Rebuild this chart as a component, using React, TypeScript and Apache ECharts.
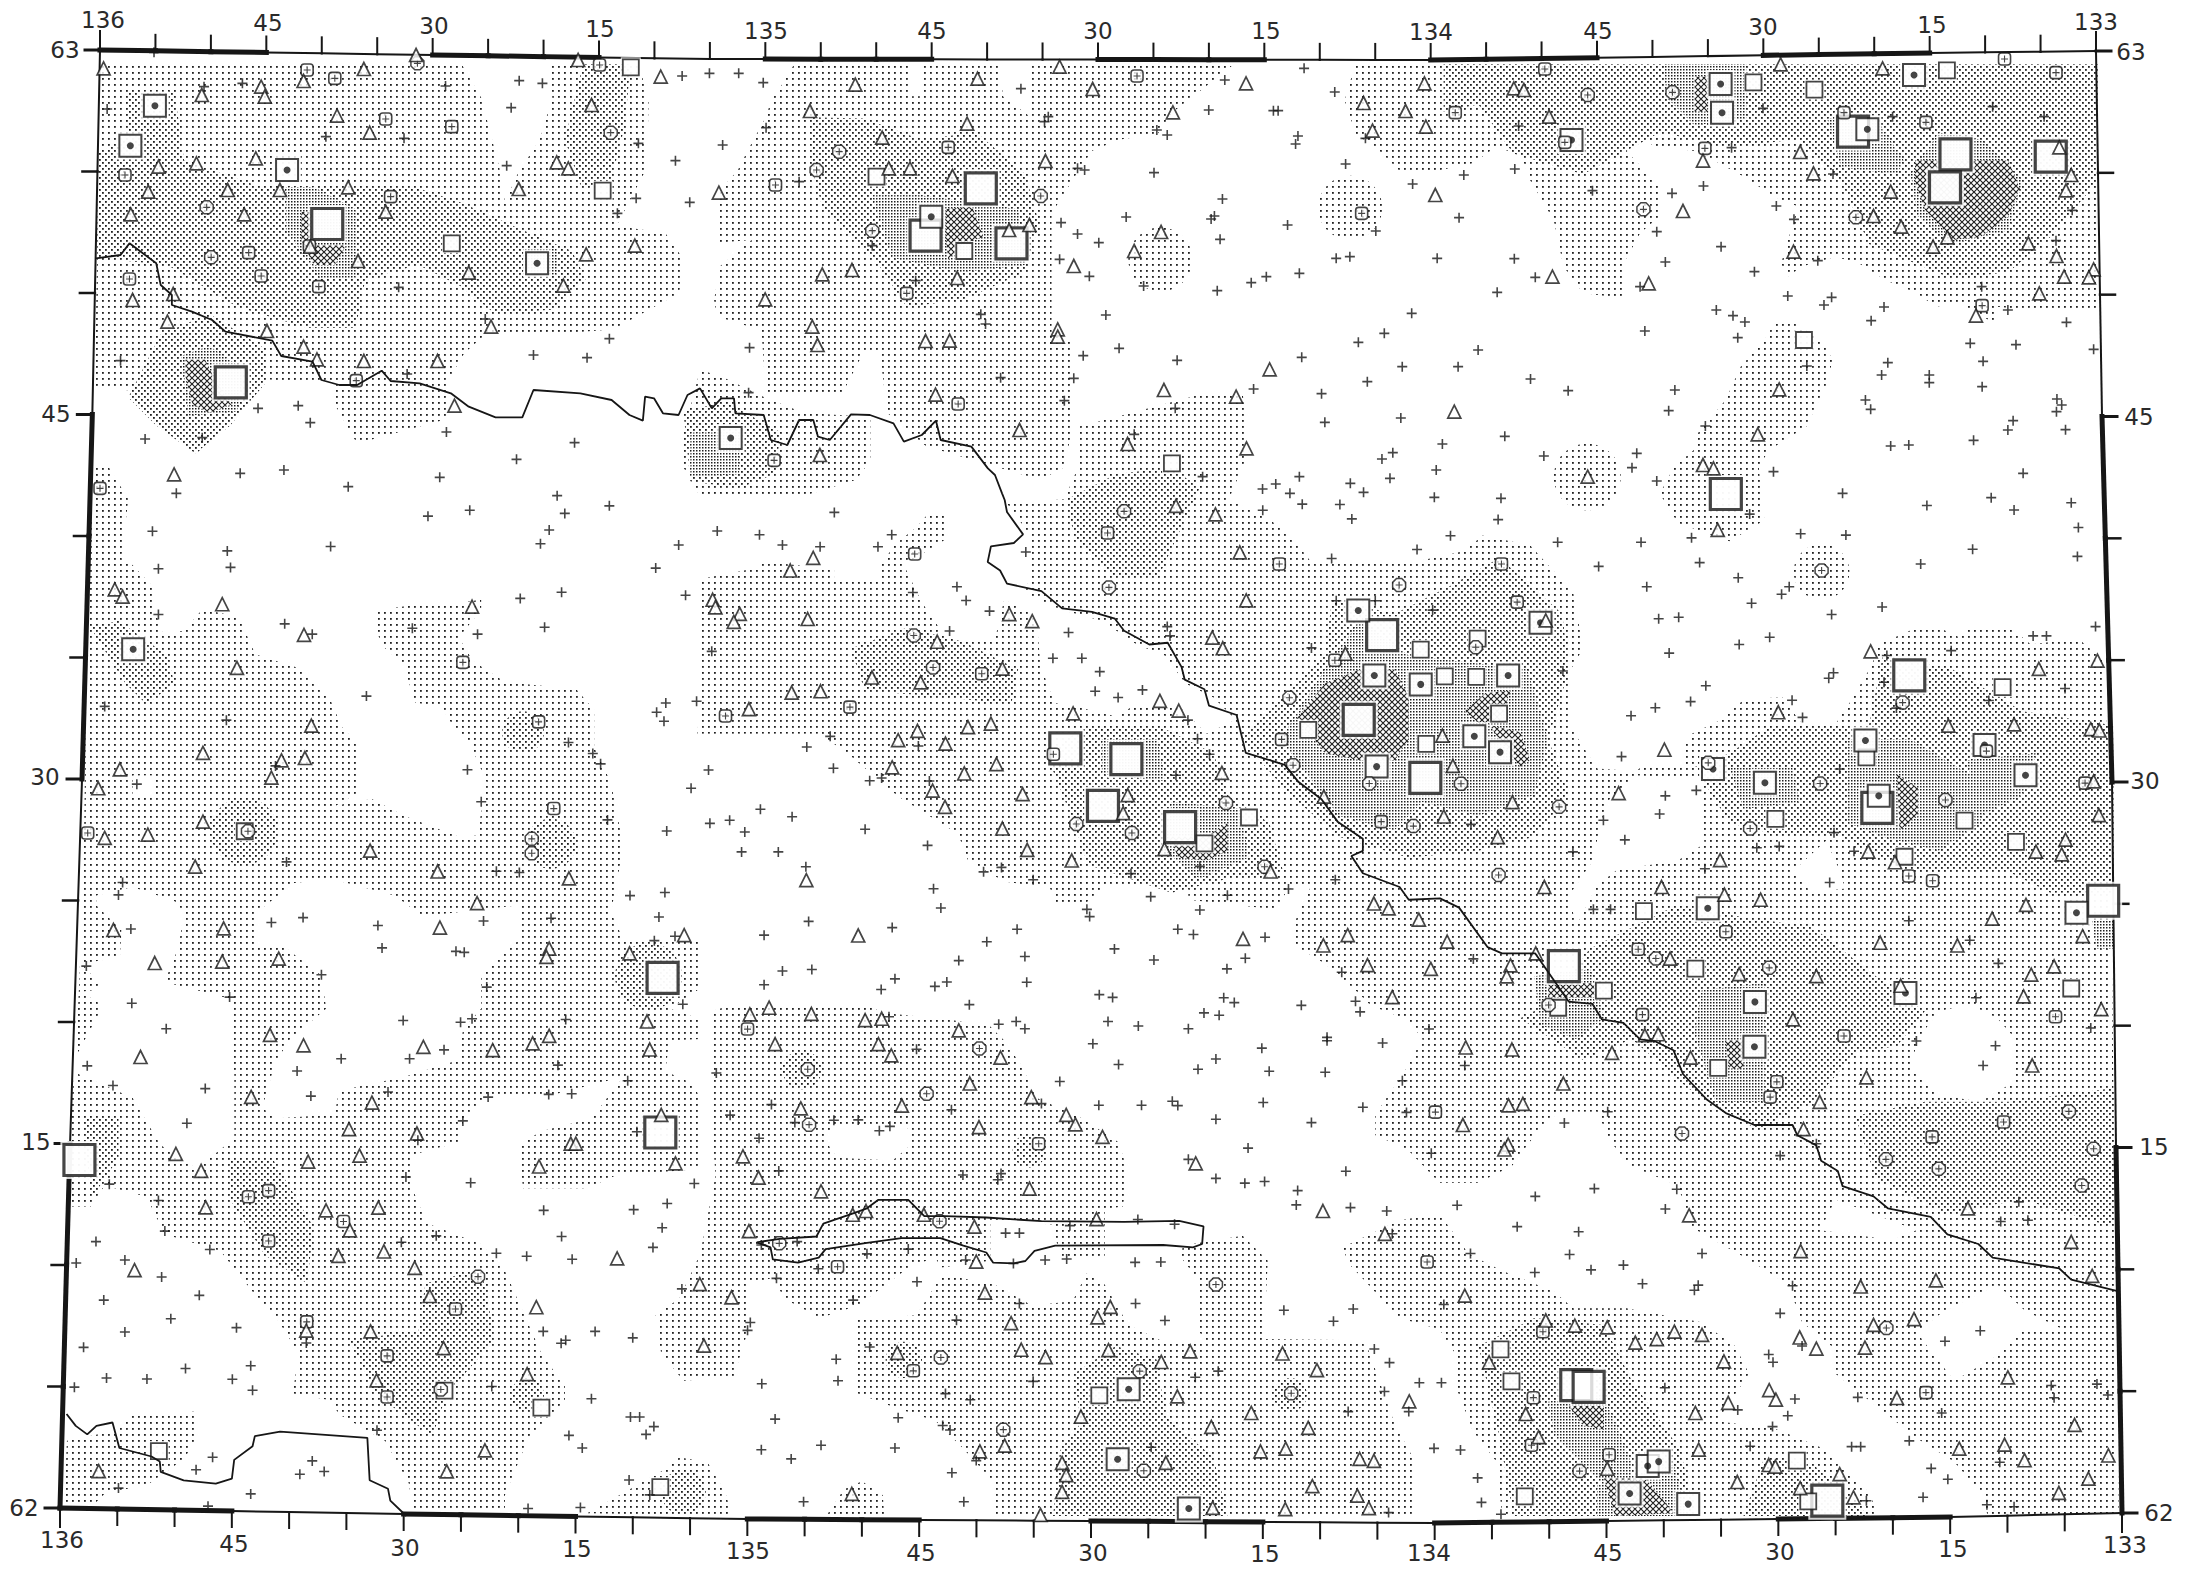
import React, { useEffect, useRef } from "react";
import * as echarts from "echarts";

type P = number[];
const W = 2187, H = 1573;

// ---- readings taken sheet by sheet: each sheet has an origin and its own reading scale ----
const sheet = (x0: number, y0: number, w: number, ys: number) => (pts: P[]) =>
  pts.map(([x, y]) => [x0 + (x * w) / 1568, y0 + y * ys]);
const sA = sheet(0, 0, 700, 1 / 3), sB = sheet(700, 0, 740, 1 / 3), sC = sheet(1440, 0, 747, 1 / 3);
const sD = sheet(0, 500, 720, 0.344), sE = sheet(720, 500, 720, 0.344), sF = sheet(1440, 500, 747, 0.344);
const sG = sheet(0, 1040, 720, 0.34), sH = sheet(720, 1040, 720, 0.34), sI = sheet(1440, 1040, 747, 0.34);
const map = (pts: P[]) => pts.map(([x, y]) => [(x * W) / 1568, (y * W) / 1568]);

// ---- plus stations ----
const plusA = [[345,157],[240,327],[457,260],[543,250],[998,258],[1163,242],[1215,250],[1145,323],[1528,228],[730,410],[905,415],[1135,497],[1430,430],[1513,482],[1425,595],[1545,607],[1383,640],[893,862],[1087,957],[1365,1016],[1195,1065],[1315,1073],[270,1082],[912,1122],[578,1225],[668,1217],[695,1268],[1000,1296],[325,1317],[453,1313],[1287,1328],[538,1420],[636,1410],[1157,1378],[985,1432],[780,1460],[395,1480],[1248,1487]];
const plusB = [[20,220],[82,220],[134,248],[680,266],[1112,240],[1280,205],[1345,276],[1078,330],[1215,332],[1225,332],[738,350],[730,365],[140,383],[968,390],[990,405],[1267,408],[1262,432],[1410,415],[48,435],[1368,492],[800,505],[815,510],[962,518],[210,545],[1510,552],[1107,597],[903,651],[1090,648],[1083,657],[1245,675],[765,668],[800,702],[1432,693],[1102,718],[845,728],[365,737],[1348,775],[1377,770],[1562,775],[762,778],[825,829],[1270,820],[1200,830],[1168,848],[940,858],[457,842],[1096,872],[860,945],[1508,940],[595,943],[605,972],[1450,1000],[1395,1027],[105,1043],[888,1045],[812,1067],[1275,1072],[1011,1081],[1488,1100],[637,1133],[792,1135],[1414,1145],[1173,1167],[1317,1181],[103,1178],[772,1202],[1007,1225],[1485,1254],[1324,1267],[920,1303],[1468,1358],[1445,1377],[1560,1410],[1065,1430],[1270,1430],[1462,1435],[1378,1450],[1220,1452],[1192,1467],[1406,1477],[1250,1480],[1556,1492]];
const plusC = [[678,325],[950,350],[1268,350],[1160,320],[165,378],[612,443],[50,525],[157,507],[825,522],[553,558],[487,580],[320,572],[706,618],[40,653],[743,658],[1327,631],[455,695],[590,740],[1293,722],[156,776],[473,786],[793,782],[660,815],[200,832],[420,860],[120,877],[730,888],[822,892],[806,915],[1137,860],[932,921],[580,930],[615,947],[1192,930],[640,966],[905,962],[1315,967],[430,993],[625,1013],[1113,1030],[1209,1034],[80,1050],[1372,1048],[940,1088],[1140,1084],[770,1098],[38,1100],[927,1125],[1027,1125],[1027,1148],[1138,1160],[190,1137],[269,1172],[493,1170],[893,1200],[1295,1197],[1305,1215],[904,1228],[1294,1235],[480,1232],[1203,1262],[1192,1290],[1313,1289],[557,1278],[136,1309],[5,1332],[946,1338],[984,1335],[1120,1321],[413,1360],[218,1368],[403,1403],[700,1415],[1224,1420],[455,1443],[845,1480],[128,1495],[1157,1493]];
const plusD = [[332,91],[495,148],[720,135],[932,47],[1023,30],[1230,39],[1327,17],[1196,87],[1177,127],[1478,131],[1562,90],[345,200],[502,196],[1428,198],[1223,268],[1133,286],[1493,277],[345,333],[620,360],[680,390],[898,373],[1040,390],[1186,370],[1550,440],[798,570],[228,600],[493,640],[1450,590],[1430,617],[1446,643],[1517,585],[1238,705],[1291,737],[1308,767],[1018,784],[1543,785],[600,773],[298,826],[1505,838],[1048,877],[1323,930],[1546,940],[1452,962],[624,1052],[1081,1079],[1131,1083],[267,1112],[258,1148],[1372,1150],[1448,1141],[660,1214],[591,1228],[823,1237],[1435,1212],[1200,1216],[1053,1224],[285,1247],[832,1302],[1425,1281],[1470,1268],[993,1312],[1011,1315],[188,1355],[700,1380],[1060,1416],[500,1445],[287,1463],[1487,1466],[362,1537],[878,1513],[1003,1518],[1028,1508],[1232,1510]];
const plusE = [[249,36],[1182,30],[1268,12],[1350,13],[1376,55],[86,101],[374,101],[136,131],[218,136],[344,136],[666,151],[1518,144],[1332,170],[420,269],[516,252],[536,292],[1342,293],[1427,293],[1552,320],[587,323],[500,381],[759,385],[974,368],[980,395],[725,460],[788,460],[1288,430],[827,499],[817,556],[920,552],[867,574],[1019,640],[240,687],[189,718],[1040,694],[432,715],[1066,739],[247,780],[993,800],[326,816],[352,808],[456,817],[88,899],[157,921],[21,931],[54,965],[316,957],[452,1004],[47,1023],[127,1023],[187,1066],[1045,1065],[574,1081],[613,1068],[895,1086],[682,1104],[1340,1104],[465,1130],[1238,1131],[1105,1149],[938,1153],[481,1186],[799,1190],[805,1211],[1045,1192],[193,1225],[647,1248],[997,1248],[1031,1263],[375,1243],[96,1265],[1187,1271],[581,1284],[859,1305],[1144,1332],[664,1327],[520,1339],[945,1337],[136,1369],[200,1365],[1104,1363],[1354,1373],[381,1392],[494,1401],[668,1402],[96,1409],[351,1423],[468,1414],[826,1438],[855,1446],[1097,1447],[1120,1461],[1384,1457],[543,1467],[1266,1469],[1394,1488],[1054,1491],[1087,1498],[368,1502],[645,1516],[845,1516],[607,1524],[664,1537],[911,1529],[1020,1537],[1544,1538],[1322,1562]];
const plusF = [[1022,16],[1205,29],[1325,8],[1340,80],[650,41],[122,57],[22,104],[247,123],[422,123],[528,110],[757,98],[852,102],[1118,143],[1338,164],[545,182],[333,193],[1009,186],[626,226],[434,252],[733,252],[717,274],[654,300],[928,311],[822,333],[459,345],[501,341],[1376,368],[692,399],[628,420],[1245,395],[1273,395],[481,445],[938,452],[1073,438],[258,497],[826,502],[816,518],[932,530],[1312,548],[558,540],[739,582],[526,586],[1152,583],[958,605],[452,604],[401,627],[761,632],[381,746],[839,782],[538,844],[473,860],[461,913],[65,943],[343,931],[827,967],[388,988],[279,1023],[665,1011],[712,1007],[869,1021],[556,1072],[818,1112],[322,1190],[358,1190],[984,1223],[1112,1280],[70,1334],[1172,1347],[1125,1447],[1366,1535]];
const plusG = [[190,76],[246,134],[447,143],[743,55],[892,55],[967,29],[647,91],[677,165],[1215,74],[1367,120],[1560,97],[845,153],[1195,160],[1245,158],[1063,168],[407,245],[1008,238],[1387,270],[910,295],[884,403],[238,424],[1025,420],[1512,422],[345,472],[1184,501],[1380,499],[1453,481],[359,562],[1442,552],[209,593],[950,576],[1223,578],[874,595],[457,616],[1422,610],[1081,627],[1147,636],[1246,645],[272,647],[166,656],[352,697],[1485,732],[434,751],[226,765],[372,820],[515,846],[1183,857],[272,859],[1296,857],[1378,876],[1222,892],[1232,883],[667,891],[182,904],[546,958],[404,966],[232,994],[320,997],[506,998],[162,1021],[1071,1019],[550,1030],[1288,1055],[1373,1109],[1393,1109],[1424,1137],[1407,1160],[821,1148],[1239,1163],[1268,1200],[463,1227],[680,1238],[427,1264],[706,1269],[653,1277],[1370,1294],[258,1318],[546,1335],[1415,1338],[1150,1378],[1264,1375],[453,1371]];
const plusH = [[812,11],[428,27],[1180,24],[1322,2],[1443,9],[1080,56],[868,72],[1041,86],[1196,92],[1318,95],[740,122],[1486,120],[112,190],[700,187],[825,192],[918,192],[985,180],[997,193],[1183,184],[1400,198],[504,205],[1495,213],[22,221],[163,243],[248,236],[301,235],[347,267],[370,254],[1080,233],[1288,243],[85,289],[1150,318],[1549,333],[1020,351],[128,385],[1363,386],[529,397],[612,393],[605,411],[1080,407],[1143,421],[1186,416],[1258,443],[1255,485],[1373,493],[1452,503],[1464,570],[622,568],[652,568],[910,528],[990,542],[762,546],[168,593],[90,603],[410,615],[320,629],[214,673],[535,647],[639,657],[708,647],[755,644],[904,654],[960,653],[123,701],[429,711],[290,765],[652,775],[905,775],[1228,795],[1379,791],[515,824],[969,825],[1336,827],[66,831],[60,854],[326,903],[1425,909],[253,939],[1458,949],[257,1002],[1085,974],[1035,992],[682,1004],[1523,1008],[91,1011],[491,1040],[545,1058],[1447,1034],[1368,1093],[1500,1093],[120,1115],[388,1111],[485,1134],[501,1147],[939,1198],[220,1192],[90,1205],[381,1200],[1555,1201],[155,1232],[558,1237],[505,1273],[182,1358],[531,1358],[1456,1390]];
const plusI = [[52,75],[352,211],[1166,17],[1140,75],[1000,3],[261,244],[790,305],[714,340],[324,437],[200,460],[497,439],[36,486],[473,497],[1215,476],[1177,534],[1234,530],[162,549],[291,564],[64,628],[550,628],[272,631],[385,662],[317,676],[199,684],[425,717],[542,721],[534,736],[740,723],[8,778],[714,804],[1134,855],[1060,886],[760,900],[690,925],[699,948],[3,1008],[472,1023],[1283,1016],[1379,1012],[1402,1044],[1289,1052],[877,1051],[745,1056],[625,1088],[1053,1097],[730,1105],[698,1137],[985,1179],[651,1195],[864,1196],[883,1196],[43,1206],[1175,1242],[1031,1260],[79,1288],[1066,1292],[1014,1345],[87,1360],[895,1355],[1148,1367],[1205,1373],[128,1395]];

// ---- triangle stations ----
const triA = [[232,205],[452,285],[585,260],[593,290],[680,243],[815,207],[932,165],[1295,180],[1480,230],[1325,315],[755,347],[828,398],[355,500],[440,490],[573,475],[1247,487],[1273,505],[332,575],[510,570],[627,570],[780,562],[1162,567],[293,643],[547,643],[864,635],[1422,737],[1313,763],[802,783],[695,740],[1050,818],[1262,857],[297,900],[388,882],[375,965],[1100,980],[598,993],[680,1040],[710,1078],[815,1083],[980,1083],[1018,1217],[390,1423]];
const triB = [[762,200],[588,236],[329,254],[832,267],[1157,250],[1535,250],[1406,309],[233,333],[1002,337],[1495,333],[566,371],[1538,380],[1425,392],[386,413],[732,483],[400,505],[445,505],[535,528],[40,578],[1558,585],[698,675],[655,690],[977,696],[920,753],[792,798],[322,810],[259,823],[545,834],[138,898],[238,980],[758,988],[758,1010],[478,1023],[529,1022],[249,1035],[1207,1108],[983,1170],[499,1184],[1136,1190],[677,1290],[906,1332],[1158,1345],[254,1365]];
const triC = [[715,193],[929,205],[155,265],[176,270],[229,350],[756,456],[552,482],[784,520],[1325,525],[1300,442],[1314,571],[946,575],[510,633],[910,648],[968,680],[1065,712],[1035,740],[1235,730],[742,755],[1294,768],[1372,808],[236,830],[1310,830],[1362,832],[438,850],[1258,880],[1125,947],[712,1168],[667,1303],[30,1235],[552,1395],[574,1405],[310,1430]];
const triD = [[250,260],[267,281],[484,303],[1028,310],[1552,290],[1558,312],[662,392],[516,488],[678,656],[442,735],[664,750],[613,757],[261,783],[591,807],[214,838],[442,935],[228,982],[322,973],[806,1019],[425,1066],[953,1080],[1239,1100],[1039,1172],[487,1245],[247,1250],[958,1243],[1196,1304],[1190,1328],[1490,1265],[1371,1318],[607,1333],[484,1342],[337,1346],[1409,1516],[588,1555],[1196,1558]];
const triE = [[993,17],[1079,42],[1132,152],[203,168],[153,205],[1146,292],[43,331],[30,354],[191,346],[630,332],[680,352],[473,412],[1072,400],[1095,431],[1362,447],[615,490],[331,516],[437,530],[156,560],[219,556],[958,584],[999,612],[63,608],[769,620],[590,650],[540,660],[430,671],[388,698],[491,708],[602,768],[375,777],[532,795],[1093,793],[463,845],[659,855],[888,858],[490,892],[878,910],[1315,862],[615,955],[669,1017],[968,1015],[766,1048],[188,1105],[1199,1080],[1424,1173],[1456,1187],[1522,1220],[301,1266],[1139,1276],[1367,1265],[1314,1295],[1410,1352],[1548,1363],[1464,1445],[107,1476],[65,1495],[199,1494],[316,1512],[352,1508],[520,1542]];
const triF = [[583,87],[904,440],[1380,467],[1257,491],[710,617],[1067,656],[1205,652],[1366,666],[1384,670],[471,726],[222,350],[27,773],[1372,818],[375,852],[152,878],[8,920],[1383,916],[121,980],[1313,987],[899,1022],[1251,1022],[1305,1030],[588,1047],[955,1053],[465,1125],[219,1125],[597,1147],[673,1162],[1230,1177],[1159,1217],[1349,1268],[924,1287],[1086,1295],[15,1284],[201,1318],[148,1353],[140,1385],[483,1333],[628,1378],[1289,1356],[1241,1380],[790,1384],[967,1412],[1225,1443],[1388,1480],[741,1510],[430,1556],[458,1553],[5,685]];
const triG = [[306,50],[661,16],[922,20],[1073,30],[1160,10],[1415,28],[547,167],[810,184],[760,262],[908,275],[1440,220],[1243,305],[1254,305],[383,335],[438,385],[671,358],[783,340],[1174,372],[1471,363],[448,492],[710,501],[824,493],[762,560],[737,635],[836,622],[293,677],[903,670],[1344,642],[1524,718],[936,753],[1168,786],[667,855],[807,857],[1533,899],[966,906],[1148,983],[820,1001],[1056,1207],[973,1269],[215,1268]];
const triH = [[120,12],[345,12],[373,45],[611,52],[544,128],[678,168],[396,193],[176,201],[754,220],[774,248],[564,256],[833,285],[50,342],[84,405],[220,445],[674,437],[1036,363],[289,514],[318,503],[444,514],[1313,503],[820,527],[554,549],[63,562],[1448,570],[558,652],[577,743],[25,757],[850,785],[634,833],[822,816],[386,920],[656,911],[709,933],[846,912],[1024,916],[1225,922],[961,947],[1300,971],[996,1048],[1501,1063],[786,1108],[1157,1097],[1070,1138],[1281,1141],[620,1193],[566,1210],[1177,1210],[1232,1202],[1393,1232],[1424,1238],[971,1244],[745,1244],[754,1280],[1290,1312],[745,1329],[1388,1340],[287,1335],[1413,1377],[1231,1380],[1073,1376],[698,1397]];
const triI = [[54,22],[151,28],[361,38],[526,52],[1243,75],[895,110],[259,128],[797,182],[144,192],[174,188],[48,250],[763,262],[143,308],[135,322],[1108,495],[523,516],[1325,594],[757,621],[1369,694],[1041,707],[883,725],[52,752],[995,821],[222,825],[283,840],[351,845],[910,838],[492,858],[550,867],[455,880],[410,890],[755,875],[790,908],[892,905],[596,945],[103,948],[1192,992],[691,1030],[705,1058],[959,1053],[605,1067],[1332,1132],[180,1100],[536,1097],[207,1168],[1185,1190],[543,1205],[1090,1202],[1403,1222],[1227,1236],[351,1261],[690,1250],[704,1255],[1361,1290],[624,1300],[839,1277],[756,1318],[868,1345],[1299,1332]];

// ---- ringed stations ----
const ringA = [[935,190],[1368,398],[463,622],[473,772]];
const ringB = [[295,455],[247,510],[722,588],[365,692]];
const ringC = [[310,285],[488,277],[427,628],[873,652]];
const ringD = [[1158,985],[1158,1027],[540,963]];
const ringE = [[880,33],[847,254],[422,394],[464,487],[1479,247],[1240,575],[1248,771],[1414,824],[776,942],[897,968],[1102,881],[1186,1066],[1510,948]];
const ringF = [[801,205],[75,428],[44,825],[250,892],[798,824],[1061,872],[651,955],[971,589],[123,1090],[453,1333],[691,1360],[563,764],[228,1468]];
const ringG = [[1041,696],[960,1028]];
const ringH = [[565,25],[191,86],[450,158],[478,533],[129,598],[1080,719],[481,934],[914,974],[1244,1039],[617,1146],[923,1267],[194,249]];
const ringI = [[508,275],[1320,210],[1047,379],[1347,428],[936,351],[1372,320],[937,847],[293,1268]];

// ---- small boxed stations ----
const boxA = [[688,210],[750,235],[864,357],[1012,380],[280,525],[875,590],[693,738],[290,837],[557,758],[585,828],[714,860],[798,1142],[1343,195],[224,1465]];
const boxB = [[926,228],[526,442],[160,555],[1402,640],[438,880],[547,1212],[157,1381]];
const boxC = [[220,207],[1185,177],[1293,218],[32,338],[1020,367],[848,338],[1138,917],[556,445],[262,427]];
const boxD = [[1008,472],[1173,645],[1206,897],[191,968]];
const boxE = [[844,96],[424,157],[1218,186],[570,505],[283,602],[12,628],[1339,466],[1223,696],[726,739],[1440,935],[60,1538]];
const boxF = [[129,186],[162,297],[1147,730],[1354,823],[984,1093],[1034,1107],[600,1255],[416,1306],[425,1496],[1292,1502],[848,1558]];
const boxG = [[541,461],[585,443],[748,534],[585,591],[668,829],[992,791],[843,929],[843,1050]];
const boxH = [[694,305],[256,667],[421,973],[1558,212],[1540,653]];
const boxI = [[707,123],[693,168],[1183,241],[1033,285],[216,858],[1020,1037],[196,1052],[192,1192],[355,1220]];

// ---- open squares ----
const openA = [[1413,202],[1350,572],[1012,730]];
const openB = [[374,530],[560,753],[1000,1390]];
const openC = [[658,247],[1064,211],[786,269],[764,1020]];
const openD = [[533,963]];
const openE = [[1526,435],[1281,668],[1538,709],[1152,923],[1055,998]];
const openF = [[79,403],[76,514],[10,513],[124,621],[895,748],[1181,544],[704,927],[1101,932],[1209,994],[975,1037],[428,1195],[536,1362],[344,1426],[248,1476],[1325,1420]];
const openG = [[968,1031],[1179,1081],[346,1209],[1438,1315]];
const openH = [[826,1045]];
const openI = [[584,82],[127,910],[150,1004],[178,1342],[749,1237],[773,1357]];

// ---- dotted squares ----
const dotA = [[347,317],[292,437],[643,510],[1203,790]];
const dotB = [[490,650],[65,1314]];
const dotC = [[589,252],[592,338],[995,225],[276,420],[897,388]];
const dotD = [[290,434]];
const dotE = [[1390,321],[1425,510],[1526,536],[1430,775]];
const dotF = [[211,357],[143,510],[72,687],[126,733],[573,782],[682,822],[893,699],[1143,712],[921,860],[1229,800],[562,1187],[1336,1200],[661,1459],[977,1433]];
const dotH = [[890,1027],[866,1233],[1021,1378]];
const dotI = [[660,20],[398,1334],[521,1365],[436,1253],[459,1240]];

// ---- large squares ----
const bigA = [[733,672],[517,1147]];
const bigB = [[595,565],[478,707],[660,730]];
const bigC = [[867,395],[1082,463],[1060,562],[1282,470],[600,1482]];
const bigD = [[1443,1389]];
const bigE = [[1442,393],[1391,639],[752,722],[885,753],[834,889],[1002,951],[1536,808]];
const bigF = [[985,510],[918,895],[1392,1165],[260,1355]];
const bigG = [[173,353],[1438,272]];
const bigI = [[286,1015],[312,1020],[813,1355]];

// ---- rivers ----
const riverA = [[215,775],[270,765],[290,730],[320,760],[350,790],[360,855],[385,885],[385,915],[430,935],[475,960],[505,995],[610,1022],[630,1068],[700,1085],[720,1140],[760,1155],[800,1155],[855,1112],[875,1143],[940,1150],[1010,1180],[1050,1220],[1110,1252],[1170,1252],[1195,1170],[1300,1180],[1370,1200],[1410,1245],[1440,1262],[1445,1190],[1465,1195],[1485,1240],[1520,1245],[1540,1185],[1568,1165]];
const riverB = [[0,1165],[25,1225],[45,1195],[72,1195],[75,1240],[135,1245],[150,1320],[185,1335],[210,1260],[240,1260],[250,1310],[275,1320],[320,1243],[360,1245],[410,1270],[432,1325],[470,1305],[500,1262],[510,1320],[575,1340],[610,1405],[625,1425],[640,1480]];
const riverE = [[620,0],[625,35],[660,100],[640,125],[590,135],[583,180],[610,205],[625,243],[700,265],[745,315],[810,325],[860,345],[880,380],[935,420],[975,415],[1005,485],[1012,522],[1055,550],[1065,598],[1125,625],[1145,735],[1230,770],[1260,820],[1310,870],[1345,935],[1400,985],[1400,1020],[1375,1035],[1400,1085],[1480,1125],[1500,1162],[1568,1158]];
const riverF = [[0,1160],[40,1185],[100,1300],[130,1318],[200,1318],[270,1458],[320,1465],[340,1510],[385,1520],[420,1568]];
const riverI = [[450,3],[490,30],[510,100],[560,175],[600,215],[660,250],[740,250],[750,280],[790,310],[800,355],[835,385],[845,430],[910,460],[940,495],[1030,520],[1065,572],[1130,600],[1160,640],[1300,672],[1325,705],[1420,738]];
const loopRiver = [[80,595],[110,610],[115,645],[170,655],[215,640],[230,615],[320,597],[395,583],[480,583],[530,605],[580,625],[595,655],[640,657],[665,650],[685,620],[730,605],[965,603],[1030,610],[1050,600],[1053,548],[1000,532],[880,535],[700,533],[580,522],[490,518],[445,518],[410,470],[345,470],[320,495],[290,510],[225,540],[210,578],[130,585],[80,595]];
const cornerRiver = [[145,1100],[165,1135],[190,1160],[210,1135],[245,1125],[260,1200],[330,1225],[348,1240],[350,1270],[400,1295],[470,1305],[505,1290],[510,1235],[550,1195],[555,1165],[610,1152],[800,1170],[805,1295],[845,1320],[850,1355],[885,1400]];

// ---- density areas ----
const lightAreas: P[][] = [
  [[72,46],[331,46],[345,70],[358,120],[362,145],[371,125],[387,100],[396,70],[395,46],[458,46],[465,72],[464,120],[442,162],[477,167],[490,186],[487,210],[440,236],[416,238],[349,239],[333,253],[320,275],[322,300],[293,308],[256,318],[240,290],[238,275],[192,272],[166,301],[141,325],[112,303],[93,280],[68,277]],
  [[570,45],[563,57],[553,72],[549,84],[536,108],[529,122],[514,139],[514,174],[539,172],[516,191],[512,215],[514,227],[546,237],[549,282],[604,282],[620,251],[631,253],[636,296],[664,320],[746,344],[763,335],[769,306],[769,246],[754,239],[754,153],[769,129],[783,108],[803,100],[830,96],[840,81],[867,60],[886,45],[740,45],[739,84],[719,69],[717,45],[661,45],[661,69],[651,69],[651,45]],
  [[502,265],[522,272],[546,284],[576,296],[624,299],[624,330],[614,344],[575,356],[502,356],[490,335],[490,311]],
  [[972,45],[964,72],[972,96],[989,108],[1003,122],[1032,122],[1056,117],[1073,105],[1091,112],[1097,129],[1114,158],[1121,191],[1135,210],[1164,214],[1164,189],[1176,167],[1190,155],[1190,134],[1166,108],[1164,100],[1169,92],[1186,105],[1214,108],[1229,115],[1251,127],[1272,141],[1289,148],[1277,189],[1282,198],[1292,191],[1316,184],[1333,189],[1352,201],[1374,210],[1388,220],[1405,217],[1430,232],[1432,220],[1460,223],[1504,223],[1504,45]],
  [[1272,232],[1287,232],[1306,244],[1314,258],[1309,277],[1295,306],[1268,323],[1261,335],[1265,373],[1240,388],[1203,375],[1190,354],[1200,335],[1214,323],[1217,311],[1237,287],[1248,263],[1265,244]],
  [[503,415],[539,408],[549,403],[598,408],[598,416],[630,416],[630,408],[641,391],[657,378],[664,370],[679,370],[679,386],[648,405],[661,432],[680,460],[713,460],[720,430],[743,442],[746,477],[756,504],[769,506],[802,514],[812,506],[845,506],[865,526],[886,516],[870,500],[850,490],[835,470],[815,462],[790,445],[760,437],[735,425],[740,408],[738,383],[722,361],[763,358],[773,335],[773,306],[800,299],[864,282],[891,282],[895,325],[881,358],[911,373],[927,386],[940,403],[1009,404],[1050,395],[1063,384],[1097,391],[1128,425],[1135,465],[1125,482],[1125,519],[1131,529],[1145,551],[1173,553],[1179,548],[1207,548],[1207,536],[1213,526],[1234,516],[1251,501],[1278,500],[1292,519],[1316,519],[1326,504],[1342,477],[1347,462],[1374,450],[1388,449],[1405,457],[1412,449],[1442,450],[1456,462],[1490,458],[1509,474],[1514,679],[1519,1085],[1425,1087],[1422,1072],[1401,1048],[1374,1031],[1340,1004],[1316,985],[1313,965],[1292,948],[1282,921],[1255,904],[1213,880],[1203,850],[1169,836],[1155,819],[1145,797],[1118,797],[1104,809],[1084,836],[1060,848],[1032,848],[1009,824],[986,814],[986,799],[1006,770],[1020,745],[1009,731],[983,721],[973,711],[950,691],[927,677],[927,664],[940,635],[924,637],[914,652],[852,645],[852,637],[792,635],[779,647],[756,647],[753,637],[720,632],[694,617],[687,598],[644,571],[611,543],[588,526],[516,526],[500,526],[503,489]],
  [[963,894],[1003,875],[1032,870],[1053,899],[1077,911],[1114,926],[1128,938],[1166,938],[1220,948],[1244,965],[1254,985],[1231,1019],[1272,1024],[1306,1038],[1340,1070],[1347,1087],[1077,1087],[1073,1048],[1056,1026],[1043,992],[1043,970],[1032,953],[1003,945],[981,921],[966,905]],
  [[615,946],[657,943],[671,921],[677,914],[713,921],[740,936],[769,933],[779,913],[792,921],[809,950],[832,961],[865,961],[858,953],[858,916],[847,902],[848,893],[891,886],[909,904],[906,960],[973,961],[980,965],[1000,1021],[1013,1045],[1013,1087],[713,1087],[713,1063],[690,1038],[671,1019],[641,1009],[615,999]],
  [[510,725],[523,721],[625,721],[631,726],[680,731],[710,736],[720,746],[733,765],[743,787],[776,802],[802,819],[809,841],[805,865],[792,867],[792,902],[760,902],[755,878],[710,875],[710,904],[674,909],[671,902],[654,907],[615,936],[588,945],[562,931],[555,916],[536,921],[536,955],[526,987],[490,990],[474,970],[470,943],[487,931],[502,899],[513,843],[510,800]],
  [[64,335],[78,335],[92,358],[87,400],[95,405],[109,420],[109,432],[117,455],[132,452],[145,437],[171,442],[183,469],[214,479],[237,502],[245,521],[257,534],[257,568],[237,580],[250,575],[267,573],[290,585],[329,600],[342,599],[349,561],[336,531],[324,519],[316,506],[298,504],[293,489],[290,477],[273,462],[268,442],[273,437],[296,434],[316,434],[345,430],[345,437],[329,457],[339,474],[359,487],[372,490],[413,494],[426,509],[426,536],[438,561],[447,607],[438,654],[447,674],[503,674],[503,708],[480,723],[503,731],[503,745],[480,746],[477,768],[497,777],[503,790],[503,838],[441,843],[421,852],[375,852],[372,821],[388,811],[424,802],[447,772],[388,787],[349,785],[332,804],[329,819],[296,828],[296,853],[306,877],[345,892],[362,911],[388,970],[405,994],[405,1004],[378,1033],[362,1072],[362,1082],[296,1082],[293,1063],[276,1033],[243,1014],[237,1004],[210,999],[214,970],[197,943],[181,926],[158,897],[118,885],[105,858],[75,850],[65,865],[50,865],[50,797],[54,767],[57,700],[60,620]],
  [[48,1033],[82,1026],[95,1015],[140,1012],[141,1031],[132,1046],[105,1065],[76,1070],[66,1080],[46,1080]],
  [[421,1085],[444,1072],[474,1055],[487,1045],[507,1048],[520,1070],[525,1087]],
  [[593,1086],[605,1068],[618,1062],[633,1072],[634,1087]],
];
const lightSpots = [[832,186,23],[968,149,23],[1138,342,24],[1306,410,20],[95,755,12]];
const emptyAreas: P[][] = [
  [[1442,72],[1458,66],[1472,74],[1468,88],[1448,88]],
  [[1316,860],[1374,882],[1357,889],[1305,882]],
  [[1432,921],[1452,940],[1483,955],[1449,955],[1432,972],[1401,990],[1374,955],[1394,940]],
  [[1375,745],[1390,725],[1412,720],[1432,730],[1445,745],[1445,775],[1420,790],[1390,785],[1370,765]],
  [[1285,625],[1309,603],[1316,617],[1323,637],[1299,640]],
  [[1173,556],[1220,558],[1222,605],[1203,617],[1159,624],[1145,635],[1130,664],[1125,642],[1142,617],[1147,593],[1152,575]],
  [[590,815],[600,806],[650,806],[654,820],[640,832],[600,830]],
  [[69,642],[95,636],[125,646],[132,654],[128,679],[118,704],[165,716],[165,745],[168,770],[168,816],[141,838],[115,821],[95,787],[56,770],[53,760],[74,721],[58,711],[74,709],[59,691],[86,686],[87,667],[69,649]],
  [[184,654],[211,633],[237,630],[283,642],[303,657],[372,649],[372,674],[345,699],[345,723],[332,738],[329,760],[290,772],[243,782],[240,799],[197,802],[188,794],[197,763],[207,746],[234,723],[230,699],[204,679],[184,677]],
  [[95,556],[110,556],[110,572],[95,570]],
];
const mediumAreas: P[][] = [
  [[70,110],[90,100],[90,65],[125,65],[132,115],[190,135],[300,135],[330,145],[375,165],[410,180],[420,200],[395,222],[355,225],[330,205],[300,190],[262,200],[255,235],[220,235],[170,220],[120,190],[70,185]],
  [[92,285],[115,240],[150,225],[190,250],[190,275],[165,305],[140,325],[112,305]],
  [[418,46],[452,46],[448,90],[438,130],[417,135],[405,100]],
  [[580,84],[620,85],[660,100],[700,95],[735,125],[745,160],[735,195],[690,215],[650,220],[630,190],[590,150],[582,120]],
  [[490,295],[520,288],[560,310],[555,340],[530,350],[495,345]],
  [[765,358],[800,340],[840,335],[860,350],[830,415],[800,415],[770,385]],
  [[1035,46],[1504,46],[1504,130],[1470,170],[1440,195],[1400,200],[1340,175],[1320,130],[1290,100],[1240,105],[1190,95],[1135,125],[1085,110],[1060,75],[1035,80]],
  [[890,530],[950,470],[955,430],[1000,440],[1040,420],[1075,400],[1120,440],[1125,480],[1110,530],[1125,570],[1100,600],[1060,610],[1010,615],[960,600],[925,570]],
  [[610,465],[650,450],[690,460],[730,480],[725,505],[680,500],[620,495]],
  [[750,540],[780,520],[830,520],[870,540],[880,570],[910,590],[920,625],[880,630],[840,640],[780,620],[770,590]],
  [[1215,550],[1240,540],[1270,520],[1340,520],[1350,470],[1400,480],[1450,510],[1515,520],[1516,640],[1470,640],[1440,625],[1370,625],[1320,600],[1280,600],[1240,590]],
  [[1110,720],[1140,680],[1200,650],[1300,665],[1345,700],[1380,725],[1360,750],[1330,755],[1300,790],[1260,810],[1210,780],[1170,745],[1135,760],[1090,730]],
  [[1330,800],[1380,790],[1440,790],[1516,780],[1516,880],[1450,860],[1395,870],[1345,845]],
  [[1060,965],[1100,945],[1150,950],[1170,990],[1205,1040],[1215,1087],[1085,1087],[1075,1030]],
  [[1265,1045],[1300,1050],[1340,1087],[1250,1087]],
  [[770,985],[800,965],[830,975],[835,1015],[870,1045],[880,1087],[755,1087],[760,1040],[775,1020]],
  [[65,450],[85,445],[120,470],[125,490],[105,505],[90,490]],
  [[60,800],[85,800],[85,830],[65,860]],
  [[165,830],[195,830],[225,880],[220,920],[190,900],[165,860]],
  [[250,960],[300,955],[305,920],[345,910],[355,960],[320,1000],[310,1030],[270,1000]],
];
const mediumSpots = [[175,596,24],[375,525,15],[395,605,18],[465,700,24],[378,1000,12],[575,767,14],[648,975,13],[738,825,12],[490,1070,16],[925,1000,12]];
const denseAreas: P[][] = [
  [[205,134],[225,134],[255,150],[255,200],[230,200],[205,165]],
  [[130,255],[150,248],[175,265],[170,295],[135,298]],
  [[625,140],[660,140],[730,150],[735,190],[690,195],[640,185]],
  [[375,178],[400,178],[400,197],[375,197]],
  [[495,310],[530,310],[530,340],[495,342]],
  [[1193,46],[1252,46],[1252,85],[1215,90],[1195,70]],
  [[1310,85],[1345,85],[1365,115],[1360,125],[1320,120]],
  [[1370,125],[1390,95],[1420,100],[1450,130],[1440,165],[1400,175],[1375,155]],
  [[918,530],[950,480],[975,445],[1010,470],[1095,480],[1110,530],[1100,570],[1060,585],[1020,575],[1000,595],[960,585]],
  [[790,530],[830,530],[835,560],[790,555]],
  [[840,575],[890,580],[895,615],[860,630],[835,610]],
  [[1240,550],[1285,550],[1290,575],[1250,580]],
  [[1325,530],[1370,530],[1420,560],[1420,590],[1390,610],[1350,600],[1325,590]],
  [[1410,545],[1460,540],[1450,570],[1420,585]],
  [[1100,700],[1140,695],[1150,730],[1130,745],[1105,735]],
  [[1220,710],[1265,705],[1265,790],[1230,790],[1215,740]],
  [[1110,1005],[1150,1000],[1170,1050],[1170,1075],[1150,1065],[1115,1030]],
  [[1145,1065],[1200,1050],[1210,1087],[1145,1087]],
  [[1500,660],[1515,660],[1516,680],[1503,680]],
];
const hatchAreas: P[][] = [
  [[216,152],[224,152],[224,176],[248,176],[240,190],[225,190],[216,172]],
  [[133,258],[147,258],[155,274],[166,290],[150,296],[138,290],[133,270]],
  [[678,150],[697,148],[705,170],[690,175],[680,187],[678,170]],
  [[1373,115],[1440,115],[1448,135],[1440,155],[1420,170],[1400,172],[1380,150],[1373,130]],
  [[930,515],[950,490],[975,480],[1000,480],[1010,500],[1010,530],[1000,545],[975,545],[950,540]],
  [[1050,510],[1065,497],[1083,495],[1075,518],[1060,518]],
  [[1068,520],[1090,525],[1097,545],[1090,550],[1075,530]],
  [[838,600],[865,600],[880,590],[880,610],[865,617],[845,615]],
  [[1360,555],[1375,565],[1375,585],[1362,595]],
  [[1110,705],[1145,705],[1145,715],[1110,715]],
  [[1125,1008],[1150,1008],[1150,1025],[1135,1022]],
  [[1150,1060],[1180,1060],[1200,1085],[1158,1087]],
  [[1237,746],[1250,746],[1250,766],[1240,766]],
  [[1215,55],[1224,55],[1224,80],[1215,80]],
];

// ---- graticule labels ----
const topLabels = ["136","45","30","15","135","45","30","15","134","45","30","15","133"];
const topLabelX = [103,268,434,600,766,932,1098,1266,1431,1598,1763,1932,2096];
const topLabelY = [20,23,26,29,31,31,31,31,32,31,27,25,22];
const bottomLabelX = [62,234,405,577,748,921,1093,1265,1429,1608,1780,1953,2125];
const bottomLabelY = [1540,1544,1548,1549,1551,1553,1553,1554,1553,1553,1552,1549,1545];
const leftLabels = ["63","45","30","15","62"];
const leftLabelX = [65,56,45,36,24];
const leftLabelY = [50,414,777,1142,1508];
const rightLabelX = [2131,2139,2145,2154,2159];
const rightLabelY = [52,417,781,1147,1513];

// ---- neatline control points ----
const topEdge = [[100,50],[433,55],[700,59],[1430,60],[1931,53],[2096,51]];
const bottomEdge = [[60,1508],[404,1514],[748,1519],[1436,1523],[1607,1521],[1952,1517],[2122,1513]];
const leftEdge = [[100,50],[92,430],[82,780],[69,1176],[60,1508]];
const rightEdge = [[2096,51],[2102,416],[2112,782],[2116,1147],[2122,1513]];

const INK = "#161616";

const lerp = (line: P[], key: number, keyIdx: number) => {
  for (let i = 1; i < line.length; i++) {
    const a = line[i - 1], b = line[i];
    if (key <= b[keyIdx] || i === line.length - 1) {
      const t = (key - a[keyIdx]) / (b[keyIdx] - a[keyIdx]);
      return a[1 - keyIdx] + t * (b[1 - keyIdx] - a[1 - keyIdx]);
    }
  }
  return 0;
};

function neatline() {
  const seg: number[][] = [];
  const hEdge = (line: P[], x0: number, step: number, dir: number) => {
    for (let i = 0; i < 36; i++) {
      const xa = x0 + i * step, xb = xa + step;
      const isThick = Math.floor(i / 3) % 2 === 0;
      seg.push([xa, lerp(line, xa, 0), xb, lerp(line, xb, 0), isThick ? 5 : 2]);
    }
    for (let i = 0; i <= 36; i++) {
      const x = x0 + i * step, y = lerp(line, x, 0);
      seg.push([x, y, x, y + dir * (i === 0 || i === 36 ? 19 : 16), 2]);
    }
  };
  hEdge(topEdge, 100, (2096 - 100) / 36, -1);
  hEdge(bottomEdge, 60, (2122 - 60) / 36, 1);
  const vEdge = (line: P[], y0: number, step: number, dir: number) => {
    for (let i = 0; i < 12; i++) {
      const ya = y0 + i * step, yb = ya + step;
      const isThick = Math.floor(i / 3) % 2 === 1;
      seg.push([lerp(line, ya, 1), ya, lerp(line, yb, 1), yb, isThick ? 5 : 2]);
    }
    for (let i = 0; i <= 12; i++) {
      const y = y0 + i * step, x = lerp(line, y, 1);
      seg.push([x, y, x + dir * 15, y, i % 3 === 0 ? 3 : 2.5]);
    }
  };
  vEdge(leftEdge, 50, (1508 - 50) / 12, -1);
  vEdge(rightEdge, 51, (1513 - 51) / 12, 1);
  return seg;
}

function makePattern(size: number, draw: (c: CanvasRenderingContext2D) => void, opaque: boolean) {
  const canvas = document.createElement("canvas");
  canvas.width = size;
  canvas.height = size;
  const c = canvas.getContext("2d") as CanvasRenderingContext2D;
  if (opaque) {
    c.fillStyle = "#fff";
    c.fillRect(0, 0, size, size);
  }
  c.fillStyle = "#202020";
  c.strokeStyle = "#202020";
  draw(c);
  return { image: canvas, repeat: "repeat" as const };
}

function areaSeries(areas: P[][], fill: any) {
  const pts = areas.map(map);
  return {
    type: "custom", coordinateSystem: "cartesian2d", silent: true, clip: true,
    data: pts.map((p, i) => [p[0][0], p[0][1], i]),
    renderItem: (_: any, api: any) => ({
      type: "polygon",
      shape: { points: pts[api.value(2)].map((q) => api.coord(q)) },
      style: { fill },
    }),
  };
}
function spotSeries(spots: number[][], fill: any) {
  const k = W / 1568;
  return {
    type: "custom", coordinateSystem: "cartesian2d", silent: true,
    data: spots.map((s) => [s[0] * k, s[1] * k, s[2] * k]),
    renderItem: (_: any, api: any) => {
      const c = api.coord([api.value(0), api.value(1)]);
      return { type: "circle", shape: { cx: c[0], cy: c[1], r: api.value(2) }, style: { fill } };
    },
  };
}
const marks = (data: number[][], symbol: string, symbolSize: number, itemStyle: any) => ({
  type: "scatter", coordinateSystem: "cartesian2d", silent: true, symbol, symbolSize, itemStyle, data,
});
const PLUS = "path://M4.2 0h1.6v4.2H10v1.6H5.8V10H4.2V5.8H0V4.2h4.2z";
const OCT = "path://M3 0h4l3 3v4l-3 3H3L0 7V3z";
const riverSeries = (data: number[][]) => ({
  type: "line", coordinateSystem: "cartesian2d", silent: true, showSymbol: false, symbol: "none",
  data, lineStyle: { color: INK, width: 1.8 },
});

export default function App() {
  const ref = useRef<HTMLDivElement>(null);
  useEffect(() => {
    document.body.style.margin = "0";
    const chart = echarts.init(ref.current as HTMLDivElement, undefined, { renderer: "svg" });

    const plus = [...sA(plusA), ...sB(plusB), ...sC(plusC), ...sD(plusD), ...sE(plusE), ...sF(plusF), ...sG(plusG), ...sH(plusH), ...sI(plusI)];
    const tri = [...sA(triA), ...sB(triB), ...sC(triC), ...sD(triD), ...sE(triE), ...sF(triF), ...sG(triG), ...sH(triH), ...sI(triI)];
    const ring = [...sA(ringA), ...sB(ringB), ...sC(ringC), ...sD(ringD), ...sE(ringE), ...sF(ringF), ...sG(ringG), ...sH(ringH), ...sI(ringI)];
    const box = [...sA(boxA), ...sB(boxB), ...sC(boxC), ...sD(boxD), ...sE(boxE), ...sF(boxF), ...sG(boxG), ...sH(boxH), ...sI(boxI)];
    const open = [...sA(openA), ...sB(openB), ...sC(openC), ...sD(openD), ...sE(openE), ...sF(openF), ...sG(openG), ...sH(openH), ...sI(openI)];
    const dot = [...sA(dotA), ...sB(dotB), ...sC(dotC), ...sD(dotD), ...sE(dotE), ...sF(dotF), ...sH(dotH), ...sI(dotI)];
    const big = [...sA(bigA), ...sB(bigB), ...sC(bigC), ...sD(bigD), ...sE(bigE), ...sF(bigF), ...sG(bigG), ...sI(bigI)];

    const riverMain = [...sA(riverA), ...sB(riverB), ...sE(riverE), ...sF(riverF), ...sI(riverI)];

    const light = makePattern(6, (c) => c.fillRect(0, 0, 1.8, 1.8), false);
    const medium = makePattern(6, (c) => { c.fillRect(0, 0, 1.8, 1.8); c.fillRect(3, 3, 1.8, 1.8); }, true);
    const dense = makePattern(3, (c) => c.fillRect(0, 0, 1.5, 1.5), true);
    const hatch = makePattern(6, (c) => {
      c.lineWidth = 1.15;
      c.beginPath();
      c.moveTo(0, 0); c.lineTo(6, 6);
      c.moveTo(6, 0); c.lineTo(0, 6);
      c.stroke();
    }, true);

    const seg = neatline();
    const labels: { t: string; x: number; y: number }[] = [];
    topLabels.forEach((t, i) => {
      labels.push({ t, x: topLabelX[i], y: topLabelY[i] });
      labels.push({ t, x: bottomLabelX[i], y: bottomLabelY[i] });
    });
    leftLabels.forEach((t, i) => {
      labels.push({ t, x: leftLabelX[i], y: leftLabelY[i] });
      labels.push({ t, x: rightLabelX[i], y: rightLabelY[i] });
    });

    const squareStyle = (w: number) => ({ color: "#fff", borderColor: INK, borderWidth: w });
    chart.setOption({
      animation: false,
      backgroundColor: "#fff",
      grid: { left: 0, right: 0, top: 0, bottom: 0 },
      xAxis: { type: "value", min: 0, max: W, show: false },
      yAxis: { type: "value", min: 0, max: H, inverse: true, show: false },
      series: [
        areaSeries(lightAreas, light),
        spotSeries(lightSpots, light),
        areaSeries(emptyAreas, "#fff"),
        areaSeries(mediumAreas, medium),
        spotSeries(mediumSpots, medium),
        areaSeries(denseAreas, dense),
        areaSeries(hatchAreas, hatch),
        riverSeries(riverMain),
        riverSeries(sH(loopRiver)),
        riverSeries(sG(cornerRiver)),
        {
          type: "custom", coordinateSystem: "cartesian2d", silent: true, clip: false,
          data: seg,
          renderItem: (_: any, api: any) => {
            const a = api.coord([api.value(0), api.value(1)]);
            const b = api.coord([api.value(2), api.value(3)]);
            return {
              type: "line",
              shape: { x1: a[0], y1: a[1], x2: b[0], y2: b[1] },
              style: { stroke: INK, lineWidth: api.value(4), lineCap: "square" },
            };
          },
        },
        {
          type: "custom", coordinateSystem: "cartesian2d", silent: true, clip: false,
          data: labels.map((l) => [l.x, l.y]),
          renderItem: (p: any, api: any) => {
            const c = api.coord([api.value(0), api.value(1)]);
            return {
              type: "text", x: c[0], y: c[1],
              style: { text: labels[p.dataIndex].t, fill: "#2a2a2a", font: '23px "DejaVu Sans"', align: "center", verticalAlign: "middle" },
            };
          },
        },
        marks(big, "rect", 38, { color: "#fff" }),
        marks(dot, "rect", 28, { color: "#fff" }),
        marks(open, "rect", 20, { color: "#fff" }),
        marks(big, "rect", 31, squareStyle(3.2)),
        marks(open, "rect", 16, squareStyle(1.8)),
        marks(dot, "rect", 22, squareStyle(2)),
        marks(dot, "circle", 7, { color: INK }),
        marks(box, "roundRect", 12, squareStyle(1.6)),
        marks(box, PLUS, 7, { color: INK }),
        marks(ring, OCT, 13, squareStyle(1.5)),
        marks(ring, PLUS, 7, { color: INK }),
        marks(tri, "triangle", 13, squareStyle(1.7)),
        marks(plus, PLUS, 10, { color: INK }),
      ],
    });
    return () => chart.dispose();
  }, []);
  return <div ref={ref} style={{ position: "absolute", left: 0, top: 0, width: W, height: H }} />;
}
